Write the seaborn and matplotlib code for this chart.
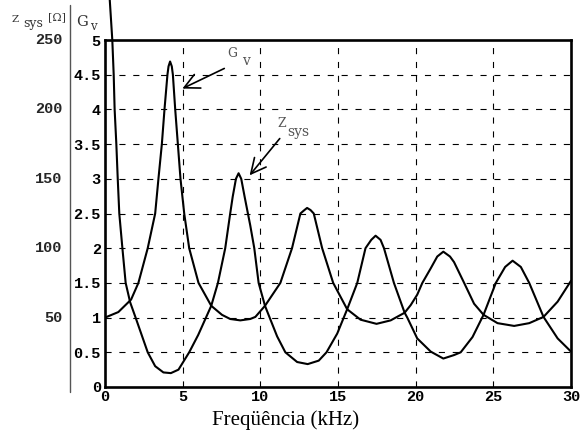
import numpy as np
import pandas as pd
import matplotlib
matplotlib.use("Agg")
import matplotlib.pyplot as plt
import seaborn as sns
from matplotlib.lines import Line2D

# ---- data ----
gv_freq = [0.0, 0.86, 1.68, 2.15, 2.75, 3.23, 3.44, 3.66, 3.83, 4.02, 4.09, 4.19, 4.30,
           4.37, 4.52, 4.69, 4.86, 5.10, 5.42, 6.02, 6.84, 7.53, 8.06, 8.71, 9.35, 9.68,
           10.3, 11.29, 12.04, 12.58, 12.84, 13.01, 13.23, 13.44, 13.98, 14.69, 15.59,
           16.45, 17.48, 18.39, 19.29, 19.68, 20.1, 20.43, 20.97, 21.39, 21.78, 22.21,
           22.47, 23.12, 23.76, 24.37, 25.27, 26.34, 27.31, 28.23, 29.14, 30.0]
gv_vals = [1.0, 1.08, 1.26, 1.5, 2.0, 2.5, 3.0, 3.5, 4.0, 4.5, 4.62, 4.69, 4.62,
           4.5, 4.0, 3.5, 3.0, 2.5, 2.0, 1.5, 1.17, 1.04, 0.98, 0.96, 0.98, 1.01,
           1.17, 1.5, 2.0, 2.5, 2.55, 2.58, 2.55, 2.5, 2.0, 1.5, 1.12,
           0.97, 0.91, 0.96, 1.07, 1.18, 1.33, 1.5, 1.71, 1.88, 1.95, 1.88,
           1.8, 1.5, 1.2, 1.04, 0.92, 0.88, 0.92, 1.01, 1.23, 1.53]

zsys_freq = [0.3, 0.47, 0.56, 0.62, 0.73, 0.82, 0.92, 1.12, 1.33, 1.62, 1.97, 2.75,
             3.23, 3.76, 4.24, 4.73, 5.42, 6.0, 6.5, 6.84, 7.27, 7.74, 8.06, 8.22,
             8.43, 8.6, 8.77, 8.99, 9.2, 9.35, 9.61, 9.89, 10.3, 10.6, 11.08, 11.61,
             12.37, 13.05, 13.76, 14.26, 14.95, 15.59, 16.24, 16.77, 17.14, 17.42,
             17.74, 17.96, 18.6, 19.29, 19.46, 20.1, 20.97, 21.78, 22.47, 22.9, 23.66,
             24.37, 25.16, 25.76, 26.24, 26.77, 27.31, 28.23, 29.14, 30.0]
zsys_vals = [5.6, 5.0, 4.5, 4.0, 3.5, 3.0, 2.5, 2.0, 1.5, 1.22, 1.0, 0.5,
             0.3, 0.21, 0.2, 0.25, 0.5, 0.75, 1.0, 1.17, 1.5, 2.0, 2.5, 2.74,
             3.0, 3.08, 3.0, 2.74, 2.5, 2.33, 2.0, 1.5, 1.17, 1.0, 0.73, 0.5,
             0.36, 0.33, 0.38, 0.5, 0.77, 1.12, 1.5, 2.0, 2.12, 2.18,
             2.12, 2.0, 1.5, 1.07, 1.0, 0.7, 0.51, 0.41, 0.46, 0.5, 0.72,
             1.04, 1.5, 1.73, 1.82, 1.73, 1.5, 1.01, 0.7, 0.51]

x_ticks = [0, 5, 10, 15, 20, 25, 30]
gv_ticks = [0, 0.5, 1, 1.5, 2, 2.5, 3, 3.5, 4, 4.5, 5]
gv_tick_labels = ["0", "0.5", "1", "1.5", "2", "2.5", "3", "3.5", "4", "4.5", "5"]
z_ticks = [50, 100, 150, 200, 250]
z_per_gv = 50

sns.set_theme(style="white")
plt.rcParams["font.family"] = ["DejaVu Sans"]

fig = plt.figure(figsize=(5.86, 4.30), dpi=100)
W, H = 586, 430
L, R, B, T = 105, 571, 387, 40
ax = fig.add_axes([L / W, (H - B) / H, (R - L) / W, (B - T) / H])

df_gv = pd.DataFrame({"f": gv_freq, "v": gv_vals})
df_z = pd.DataFrame({"f": zsys_freq, "v": zsys_vals})
sns.lineplot(data=df_gv, x="f", y="v", ax=ax, color="black", lw=1.5, estimator=None)
sns.lineplot(data=df_z, x="f", y="v", ax=ax, color="black", lw=1.5, estimator=None)
ax.lines[-1].set_clip_on(False)
for ln in ax.lines:
    ln.set_solid_joinstyle("round")

ax.set_xlim(0, 30)
ax.set_ylim(0, 5)
ax.set_xlabel("")
ax.set_ylabel("")

# grid
dash = (0, (5.5, 7.0))
for gx in x_ticks[1:-1]:
    ax.axvline(gx, color="black", lw=0.8, ls=dash, zorder=0)
for gy in gv_ticks[1:-1]:
    ax.axhline(gy, color="black", lw=0.8, ls=dash, zorder=0)

for s in ax.spines.values():
    s.set_color("black")
    s.set_linewidth(1.9)

mono = {"family": "Liberation Mono", "weight": "bold", "size": 11}
ax.set_xticks(x_ticks)
ax.set_xticklabels([str(t) for t in x_ticks], fontdict=mono)
ax.set_yticks(gv_ticks)
ax.set_yticklabels(gv_tick_labels, fontdict=mono)
ax.tick_params(axis="x", length=0, pad=2, colors="black")
ax.tick_params(axis="y", length=0, pad=3, colors="black")

# Z_sys axis labels to the left
zx = (62 - L) / (R - L)
for z in z_ticks:
    ax.text(zx, z / z_per_gv, str(z), transform=ax.get_yaxis_transform(),
            ha="right", va="center", fontfamily="Liberation Mono",
            fontweight="bold", fontsize=11)
lx = (70 - L) / (R - L)
ax.add_line(Line2D([lx, lx], [(B - 392) / (B - T), (B - 5) / (B - T)],
                   transform=ax.transAxes, color="#555555", lw=1.0, clip_on=False))

# headers
serif = "DejaVu Serif"
fig.text(12 / W, 1 - 20 / H, "Z", fontfamily=serif, fontsize=7.5, color="#333333",
         ha="left", va="center")
fig.text(23 / W, 1 - 24 / H, "sys", fontfamily=serif, fontsize=9, color="#333333",
         ha="left", va="center")
fig.text(48 / W, 1 - 17 / H, "[Ω]", fontfamily=serif, fontsize=8, color="#333333",
         ha="left", va="center")
fig.text(76 / W, 1 - 22 / H, "G", fontfamily=serif, fontsize=10.5, color="#333333",
         ha="left", va="center")
fig.text(90 / W, 1 - 26 / H, "v", fontfamily=serif, fontsize=8.5, color="#333333",
         ha="left", va="center")

# annotations
arrowprops = dict(arrowstyle="->,head_length=0.9,head_width=0.45", color="black", lw=1.2,
                  shrinkA=0, shrinkB=0)
ax.annotate("", xy=(4.98, 4.30), xytext=(7.68, 4.59), arrowprops=arrowprops)
ax.annotate("", xy=(9.31, 3.05), xytext=(11.25, 3.58), arrowprops=arrowprops)
ax.text(7.85, 4.80, "G", fontfamily=serif, fontsize=9, color="#555555", ha="left", va="center")
ax.text(8.8, 4.70, "v", fontfamily=serif, fontsize=10, color="#555555", ha="left", va="center")
ax.text(11.1, 3.80, "Z", fontfamily=serif, fontsize=9, color="#555555", ha="left", va="center")
ax.text(11.75, 3.68, "sys", fontfamily=serif, fontsize=10, color="#555555", ha="left", va="center")

fig.text(286 / W, 1 - 420 / H, "Freqüência (kHz)", fontfamily="Liberation Serif",
         fontsize=15, color="black", ha="center", va="center")

fig.savefig("out.png", dpi=100)
